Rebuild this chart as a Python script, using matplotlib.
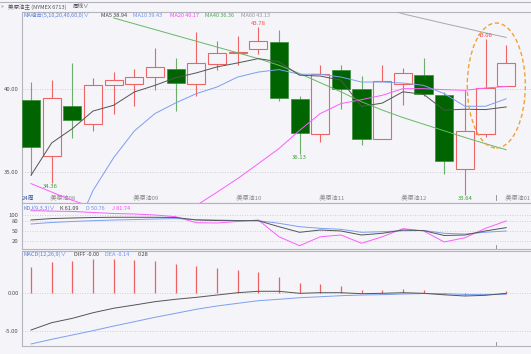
import matplotlib
matplotlib.use("Agg")
import matplotlib.pyplot as plt
import numpy as np
from matplotlib.patches import Ellipse
from matplotlib.lines import Line2D

plt.rcParams['font.family'] = ['Noto Sans CJK SC', 'DejaVu Sans']

# ---------------- data ----------------
month_labels = [":美原油08", ":美原油09", ":美原油10", ":美原油11", ":美原油12", ":美原油01"]
month_pos = [1, 5, 10, 14, 18, 23]

opens  = [39.38, 35.98, 39.02, 37.93, 40.28, 40.30, 40.74, 41.25, 40.34, 41.51, 42.19, 42.45,
          42.87, 39.44, 37.31, 41.19, 40.02, 36.98, 40.34, 40.88, 39.68, 35.22, 37.33, 40.18]
highs  = [40.42, 40.54, 41.59, 40.70, 41.04, 41.25, 42.49, 41.90, 43.45, 42.91, 43.20, 43.78,
          43.55, 39.58, 41.45, 41.45, 40.78, 41.45, 41.31, 41.90, 39.84, 39.94, 43.06, 42.69]
lows   = [34.82, 34.36, 37.07, 37.47, 38.50, 39.02, 39.95, 38.70, 39.58, 41.19, 41.45, 42.15,
          39.30, 36.13, 36.83, 38.84, 36.63, 36.98, 39.04, 39.58, 34.88, 33.64, 37.13, 40.18]
closes = [36.52, 39.48, 38.14, 40.28, 40.58, 40.74, 41.35, 40.38, 41.59, 42.21, 42.22, 42.91,
          39.48, 37.37, 40.95, 40.00, 36.98, 40.48, 41.00, 39.74, 35.69, 37.47, 40.10, 41.59]

ma5  = [34.82, 36.77, 37.63, 38.69, 39.04, 39.84, 40.24, 40.70, 40.99, 41.35, 41.59, 41.85,
        41.66, 40.85, 40.80, 40.55, 38.97, 39.17, 39.85, 39.70, 38.75, 38.80, 38.78, 38.94]
ma10 = [np.nan, np.nan, 31.10, 33.90, 35.88, 37.49, 38.54, 39.18, 39.74, 40.14, 40.74, 41.04,
        41.19, 40.91, 40.91, 40.74, 40.44, 40.44, 40.38, 40.24, 39.74, 38.98, 38.98, 39.43]
ma20 = [34.32, 33.81, 33.31, 32.90, 32.60, 32.50, 32.60, 32.80, 33.00, 33.80, 34.62, 35.52,
        36.43, 37.53, 38.54, 39.14, 39.38, 39.64, 40.04, 40.04, 39.98, 39.94, 40.08, 40.17]
ma40 = [np.nan, np.nan, np.nan, np.nan, 44.30, 43.95, 43.60, 43.25, 42.90, 42.55, 42.20, 41.85,
        41.45, 40.95, 40.40, 39.85, 39.25, 38.75, 38.30, 37.90, 37.50, 37.10, 36.72, 36.36]
ma60 = [np.nan] * 17 + [44.95, 44.55, 44.26, 43.97, 43.69, 43.40, 43.13]

k_vals = [84.6, 89.0, 90.8, 92.3, 93.0, 93.0, 93.0, 92.3, 84.6, 83.0, 82.5, 82.5,
          64.0, 46.8, 53.8, 50.8, 38.5, 43.7, 53.8, 52.0, 37.0, 38.5, 51.0, 61.09]
d_vals = [72.3, 77.0, 80.0, 82.5, 84.6, 86.0, 87.7, 89.0, 86.0, 84.6, 83.0, 82.5,
          74.5, 64.0, 59.0, 56.0, 46.8, 48.6, 51.5, 52.5, 43.7, 41.5, 47.0, 50.76]
j_vals = [113.2, 112.0, 111.0, 107.7, 104.6, 103.0, 100.0, 94.8, 76.3, 75.4, 80.0, 84.6,
          33.2, 5.5, 33.0, 38.5, 13.0, 33.0, 58.0, 51.0, 17.0, 30.0, 59.0, 81.74]

macd_hist = [3.56, 4.19, 4.37, 4.59, 4.59, 4.50, 4.32, 3.92, 3.70, 3.43, 3.12, 2.85,
             2.22, 1.34, 1.25, 0.98, 0.44, 0.44, 0.54, 0.44, -0.08, -0.25, 0.02, 0.28]
diff_vals = [-4.91, -3.93, -3.35, -2.60, -2.00, -1.57, -1.12, -0.80, -0.54, -0.23, 0.08, 0.27,
             0.27, 0.00, 0.08, 0.08, -0.05, 0.00, 0.08, 0.00, -0.20, -0.36, -0.27, -0.00]
dea_vals = [-6.78, -6.16, -5.58, -5.00, -4.38, -3.80, -3.21, -2.68, -2.14, -1.70, -1.34, -0.99,
            -0.80, -0.59, -0.46, -0.32, -0.23, -0.18, -0.10, -0.03, -0.05, -0.15, -0.15, -0.14]

# ---------------- style ----------------
W, H = 531, 354
BG = '#f4f4f9'
RED = '#ee6464'
GREEN_FACE = '#006400'
GREEN_WICK = '#6aae6a'
C_MA5, C_MA10, C_MA20, C_MA40, C_MA60 = '#555555', '#7d9ff0', '#ff5cff', '#66b866', '#a8a8a8'
GRID = '#c4c4cc'
SPINE = '#b4b4bc'
FS = 4.3
FS_LEG = 4.0
TXT = '#555555'

fig = plt.figure(figsize=(W / 100, H / 100), dpi=100, facecolor=BG)

def fx(px):
    return px / W

def fy(py):
    return 1 - py / H

left = 21.5
ax1 = fig.add_axes([fx(left), fy(203), 1 - fx(left), (203 - 11.5) / H])
ax2 = fig.add_axes([fx(left), fy(249), 1 - fx(left), (249 - 203) / H])
ax3 = fig.add_axes([fx(left), fy(346), 1 - fx(left), (346 - 251) / H])

x = np.arange(len(opens))
XLIM = (-0.46, 24.2)

for ax in (ax1, ax2, ax3):
    ax.set_facecolor(BG)
    ax.set_xlim(*XLIM)
    ax.set_xticks([])
    ax.tick_params(axis='y', length=0, pad=2, labelsize=FS, labelcolor=TXT)
    ax.spines['right'].set_visible(False)
    for s in ('left', 'top', 'bottom'):
        ax.spines[s].set_color(SPINE)
        ax.spines[s].set_linewidth(0.8)

# ---------------- main panel ----------------
ax1.set_ylim(33.15, 44.69)
ax1.set_yticks([35, 40])
ax1.set_yticklabels(['35.00', '40.00'])
for v in (35, 40):
    ax1.axhline(v, color=GRID, lw=0.6, ls=(0, (1, 2)), zorder=0)

for i in x:
    o, h, l, c = opens[i], highs[i], lows[i], closes[i]
    up = c >= o
    wick_c = RED if up else GREEN_WICK
    ax1.vlines(i, l, h, color=wick_c, lw=0.8, zorder=2)
    bottom = min(o, c)
    height = max(abs(c - o), 0.03)
    if up:
        ax1.bar(i, height, bottom=bottom, width=0.88, facecolor=BG, edgecolor=RED,
                linewidth=0.8, zorder=3)
    else:
        ax1.bar(i, height, bottom=bottom, width=0.88, facecolor=GREEN_FACE,
                edgecolor='#3a8a3a', linewidth=0.5, zorder=3)

ax1.plot(x, ma60, color=C_MA60, lw=0.7, zorder=4)
ax1.plot(x, ma40, color=C_MA40, lw=0.7, zorder=4)
ax1.plot(x, ma20, color=C_MA20, lw=0.7, zorder=4)
ax1.plot(x, ma10, color=C_MA10, lw=0.7, zorder=4)
ax1.plot(x, ma5, color=C_MA5, lw=0.7, zorder=4)

# high / low annotations
for i in (11, 22):
    ax1.annotate(f"{highs[i]:.2f}", (i, highs[i]), xytext=(0, 0.6), textcoords='offset points',
                 ha='center', va='bottom', fontsize=FS, color='#ff4848', zorder=6)
for i in (1, 13, 21):
    ax1.annotate(f"{lows[i]:.2f}", (i, lows[i]), xytext=(-1 if i == 1 else 0, -0.8),
                 textcoords='offset points', ha='center', va='top', fontsize=FS,
                 color='#3aa03a', zorder=6)

# orange dashed ellipse highlight
ELL_CX, ELL_CY, ELL_W, ELL_H = 22.52, 40.23, 2.81, 7.53
ax1.add_patch(Ellipse((ELL_CX, ELL_CY), ELL_W, ELL_H, fill=False, ec='#f5a030', lw=1.0,
                      ls=(0, (3, 2)), zorder=7))

# month labels in main panel
tr = ax1.get_xaxis_transform()
ax1.text(-0.46, 0.026, "24周", transform=tr, fontsize=FS, color='#3a5aa8', va='center', ha='left')
for lab, p in zip(month_labels, month_pos):
    ax1.text(p - 0.1, 0.026, lab, transform=tr, fontsize=FS, color='#8a8a8a', va='center', ha='left')

CURSOR_X = 22.52
ax1.plot([CURSOR_X, CURSOR_X], [0.015, 0.04], transform=tr, color='#888888', lw=0.6)

# ---------------- KDJ panel ----------------
ax2.set_ylim(-4.6, 136.9)
ax2.set_yticks([20, 50, 80, 100])
ax2.set_yticklabels(['20', '50', '80', '100'])
for v in (20, 50, 80, 100):
    ax2.axhline(v, color=GRID, lw=0.6, ls=(0, (1, 2)), zorder=0)
ax2.plot(x, j_vals, color='#ff5cff', lw=0.7, zorder=3)
ax2.plot(x, d_vals, color=C_MA10, lw=0.7, zorder=3)
ax2.plot(x, k_vals, color=C_MA5, lw=0.7, zorder=3)
tr2 = ax2.get_xaxis_transform()
ax2.plot([CURSOR_X, CURSOR_X], [0.0, 0.08], transform=tr2, color='#888888', lw=0.6)

# ---------------- MACD panel ----------------
ax3.set_ylim(-7.05, 5.66)
ax3.set_yticks([-5, 0])
ax3.set_yticklabels(['-5.00', '0.00'])
for v in (-5, 0):
    ax3.axhline(v, color=GRID, lw=0.6, ls=(0, (1, 2)), zorder=0)
for i in x:
    v = macd_hist[i]
    ax3.vlines(i, 0, v, color='#f06060' if v >= 0 else '#2e9e2e', lw=0.9, zorder=2)
ax3.plot(x, dea_vals, color=C_MA10, lw=0.7, zorder=3)
ax3.plot(x, diff_vals, color=C_MA5, lw=0.7, zorder=3)
tr3 = ax3.get_xaxis_transform()
ax3.plot([CURSOR_X, CURSOR_X], [0.0, 0.045], transform=tr3, color='#888888', lw=0.6)

# ---------------- header & legends ----------------
fig.add_artist(Line2D([0, 1], [fy(1.5), fy(1.5)], color=SPINE, lw=0.8))
fig.text(fx(0.5), fy(6.5), "»", fontsize=FS_LEG, color='#666666', va='center', ha='left')
fig.text(fx(8), fy(6.5), "美原油主 (NYMEX 6713)", fontsize=FS_LEG, color='#555555', va='center', ha='left')
fig.text(fx(73), fy(6.5), "周线∨", fontsize=FS_LEG, color='#555555', va='center', ha='left')

def legend_row(ypx, items):
    for xpx, s, col in items:
        fig.text(fx(xpx), fy(ypx), s, fontsize=FS_LEG, color=col, va='center', ha='left')

legend_row(15.5, [
    (24, "MA组合(5,10,20,40,60,0)∨", '#5a7ee0'),
    (101, f"MA5 {ma5[-1]:.2f}", '#444444'),
    (133, f"MA10 {ma10[-1]:.2f}", '#6f92ee'),
    (170, f"MA20 {ma20[-1]:.2f}", '#ff44ff'),
    (205, f"MA40 {ma40[-1]:.2f}", '#4aa84a'),
    (241, f"MA60 {ma60[-1]:.2f}", '#9a9a9a'),
])
legend_row(208, [
    (24, "KDJ(9,3,3)∨", '#5a7ee0'),
    (60, f"K {k_vals[-1]:.2f}", '#444444'),
    (86, f"D {d_vals[-1]:.2f}", '#6f92ee'),
    (112, f"J {j_vals[-1]:.2f}", '#ff44ff'),
])
legend_row(254.5, [
    (23, "MACD(12,26,9)∨", '#5a7ee0'),
    (74, f"DIFF {diff_vals[-1]:.2f}", '#444444'),
    (105, f"DEA {dea_vals[-1]:.2f}", '#6f92ee'),
    (138, f"{macd_hist[-1]:.2f}", '#444444'),
])

fig.savefig("out.png", dpi=100, facecolor=BG)
